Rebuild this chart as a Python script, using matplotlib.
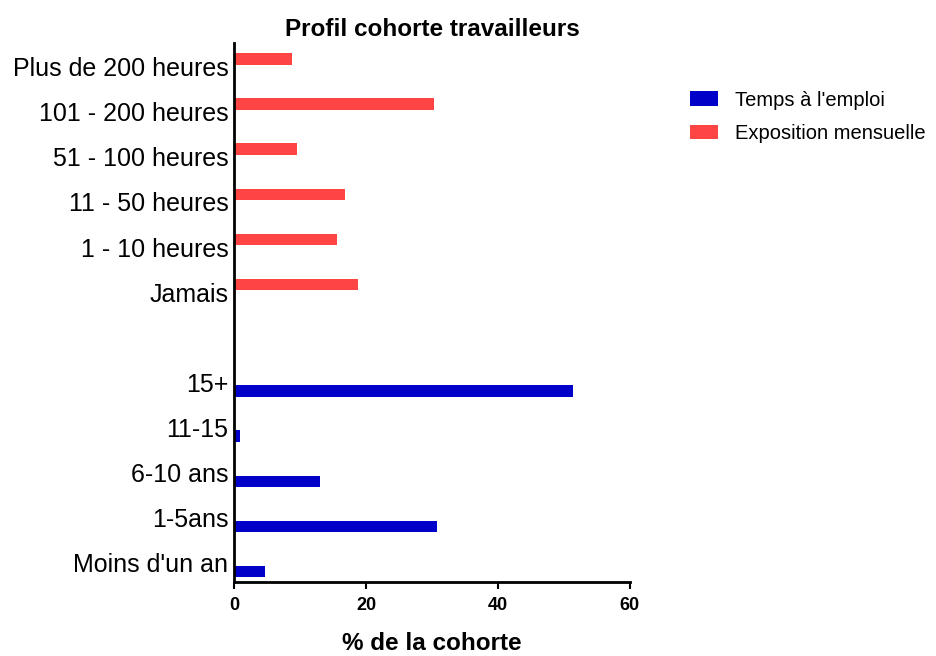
import numpy as np
import matplotlib.pyplot as plt

plt.rcParams['font.family'] = ['Liberation Sans', 'DejaVu Sans']

# categories from bottom to top; the blank one is the gap between the two groups
categories = ["Moins d'un an", "1-5ans", "6-10 ans", "11-15", "15+", "",
              "Jamais", "1 - 10 heures", "11 - 50 heures", "51 - 100 heures",
              "101 - 200 heures", "Plus de 200 heures"]
temps_emploi = [4.7, 30.7, 13.1, 0.9, 51.3, 0, 0, 0, 0, 0, 0, 0]
exposition = [0, 0, 0, 0, 0, 0, 18.8, 15.6, 16.8, 9.5, 30.3, 8.8]

blue = '#0000C8'
red = '#FF4444'

fig = plt.figure(figsize=(9.36, 6.56), dpi=100)
ax = fig.add_axes([0.25, 0.113, 0.423, 0.822])

y = np.arange(len(categories))
h = 0.25
ax.barh(y - 0.19, temps_emploi, height=h, color=blue, linewidth=0, label="Temps à l'emploi")
ax.barh(y + 0.17, exposition, height=h, color=red, linewidth=0, label="Exposition mensuelle")

ax.set_xlim(0, 60)
ax.set_ylim(-0.42, 11.53)
ax.set_xticks([0, 20, 40, 60])
ax.set_yticks(y)
ax.set_yticklabels(categories, fontsize=18)
ax.tick_params(axis='y', length=0, pad=4)
ax.tick_params(axis='x', length=5, width=1.5, labelsize=13, pad=6)
for lab in ax.get_xticklabels():
    lab.set_fontweight('bold')

for s in ['top', 'right']:
    ax.spines[s].set_visible(False)
for s in ['left', 'bottom']:
    ax.spines[s].set_linewidth(2)

ax.set_xlabel('% de la cohorte', fontsize=17.5, fontweight='bold', labelpad=13)
ax.set_title('Profil cohorte travailleurs', fontsize=17.5, fontweight='bold', pad=5)

fig.legend(loc='upper left', bbox_to_anchor=(0.737, 0.862), frameon=False,
           borderaxespad=0, borderpad=0,
           fontsize=14.5, handlelength=1.4, handleheight=0.7, handletextpad=0.85,
           labelspacing=0.72)

fig.savefig('out.png', dpi=100)
